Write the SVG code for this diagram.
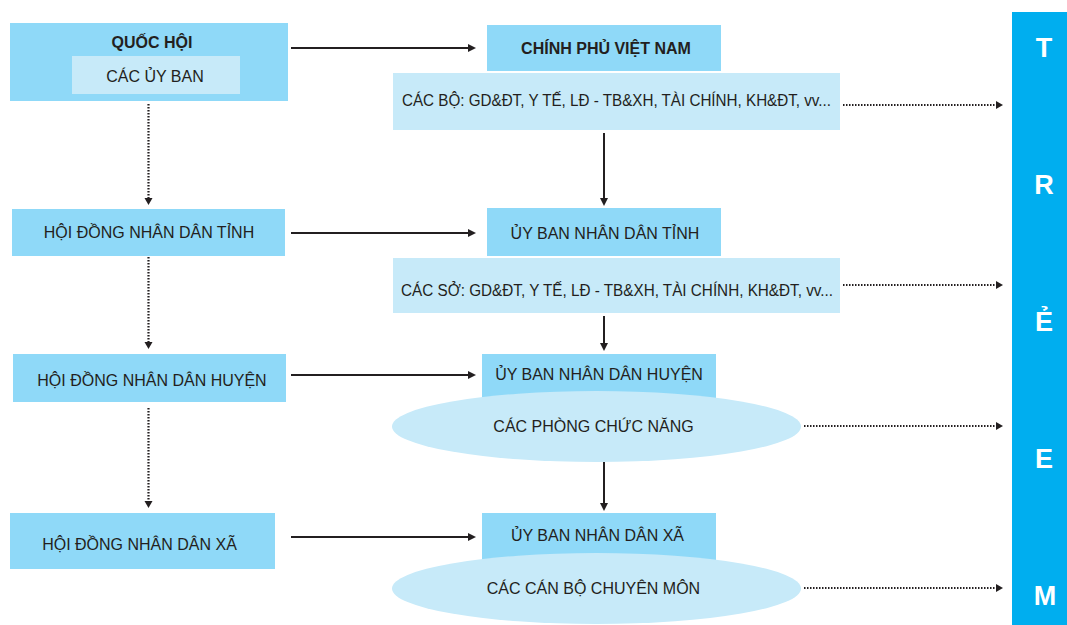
<svg xmlns="http://www.w3.org/2000/svg" width="1067" height="625" viewBox="0 0 1067 625">
  <style>
    .mid { fill: #8fd9f8; }
    .light { fill: #c7eaf9; }
    .t { font-family: "Liberation Sans", Arial, sans-serif; font-size: 16px; fill: #231f20; text-anchor: middle; }
    .b { font-weight: bold; }
    .solid { stroke: #231f20; stroke-width: 2; fill: none; }
    .dot { stroke: #231f20; stroke-width: 2.2; stroke-dasharray: 1.5 1.5; fill: none; }
    .side { font-family: "Liberation Sans", Arial, sans-serif; font-size: 27px; font-weight: bold; fill: #ffffff; text-anchor: middle; }
  </style>
  <defs>
    <marker id="ah" markerUnits="userSpaceOnUse" markerWidth="9" markerHeight="10" refX="1" refY="5" orient="auto">
      <path d="M0,1 L8,5 L0,9 z" fill="#231f20"/>
    </marker>
    <marker id="ahs" markerUnits="userSpaceOnUse" markerWidth="9" markerHeight="10" refX="1" refY="5" orient="auto">
      <path d="M0,1 L7,5 L0,9 z" fill="#231f20"/>
    </marker>
  </defs>
  <rect width="1067" height="625" fill="#ffffff"/>

  <g id="connectors">
    <line class="solid" x1="291" y1="48" x2="469" y2="48" marker-end="url(#ah)"/>
    <line class="solid" x1="291" y1="233" x2="469" y2="233" marker-end="url(#ah)"/>
    <line class="solid" x1="291" y1="375" x2="469" y2="375" marker-end="url(#ah)"/>
    <line class="solid" x1="291" y1="537" x2="469" y2="537" marker-end="url(#ah)"/>
    <line class="solid" x1="604" y1="133" x2="604" y2="199" marker-end="url(#ah)"/>
    <line class="solid" x1="604" y1="316" x2="604" y2="344" marker-end="url(#ah)"/>
    <line class="solid" x1="604" y1="462" x2="604" y2="504" marker-end="url(#ah)"/>
    <line class="dot" x1="148.5" y1="104" x2="148.5" y2="199" marker-end="url(#ahs)"/>
    <line class="dot" x1="148.5" y1="257" x2="148.5" y2="343" marker-end="url(#ahs)"/>
    <line class="dot" x1="148.5" y1="408" x2="148.5" y2="502" marker-end="url(#ahs)"/>
    <line class="dot" x1="843" y1="105" x2="997" y2="105" marker-end="url(#ahs)"/>
    <line class="dot" x1="843" y1="285" x2="997" y2="285" marker-end="url(#ahs)"/>
    <line class="dot" x1="804" y1="426" x2="997" y2="426" marker-end="url(#ahs)"/>
    <line class="dot" x1="804" y1="588" x2="997" y2="588" marker-end="url(#ahs)"/>
  </g>

  <g id="quoc-hoi">
    <rect class="mid" x="10" y="23" width="278" height="78"/>
    <text class="t b" x="152" y="48">QUỐC HỘI</text>
  </g>
  <g id="cac-uy-ban">
    <rect class="light" x="72" y="56" width="168" height="38"/>
    <text class="t" x="155" y="82">CÁC ỦY BAN</text>
  </g>
  <g id="hdnd-tinh">
    <rect class="mid" x="12" y="209" width="273" height="47"/>
    <text class="t" x="149" y="238">HỘI ĐỒNG NHÂN DÂN TỈNH</text>
  </g>
  <g id="hdnd-huyen">
    <rect class="mid" x="13" y="354" width="273" height="48"/>
    <text class="t" x="152" y="386">HỘI ĐỒNG NHÂN DÂN HUYỆN</text>
  </g>
  <g id="hdnd-xa">
    <rect class="mid" x="10" y="513" width="265" height="56"/>
    <text class="t" x="139.5" y="550">HỘI ĐỒNG NHÂN DÂN XÃ</text>
  </g>

  <g id="chinh-phu">
    <rect class="mid" x="487" y="25" width="234" height="46"/>
    <text class="t b" x="606" y="54">CHÍNH PHỦ VIỆT NAM</text>
  </g>
  <g id="cac-bo">
    <rect class="light" x="393" y="73" width="447" height="57"/>
    <text class="t" x="616.5" y="106" textLength="429" lengthAdjust="spacingAndGlyphs">CÁC BỘ: GD&amp;ĐT, Y TẾ, LĐ - TB&amp;XH, TÀI CHÍNH, KH&amp;ĐT, vv...</text>
  </g>
  <g id="ubnd-tinh">
    <rect class="mid" x="487" y="208" width="234" height="48"/>
    <text class="t" x="605" y="239">ỦY BAN NHÂN DÂN TỈNH</text>
  </g>
  <g id="cac-so">
    <rect class="light" x="393" y="258" width="447" height="55"/>
    <text class="t" x="617" y="296" textLength="432" lengthAdjust="spacingAndGlyphs">CÁC SỞ: GD&amp;ĐT, Y TẾ, LĐ - TB&amp;XH, TÀI CHÍNH, KH&amp;ĐT, vv...</text>
  </g>
  <g id="ubnd-huyen">
    <rect class="mid" x="482" y="354" width="234" height="48"/>
    <text class="t" x="599" y="380">ỦY BAN NHÂN DÂN HUYỆN</text>
  </g>
  <g id="cac-phong">
    <ellipse class="light" cx="596.5" cy="426.5" rx="204.5" ry="35.5"/>
    <text class="t" x="593.5" y="432">CÁC PHÒNG CHỨC NĂNG</text>
  </g>
  <g id="ubnd-xa">
    <rect class="mid" x="482" y="513" width="234" height="48"/>
    <text class="t" x="597.5" y="541">ỦY BAN NHÂN DÂN XÃ</text>
  </g>
  <g id="can-bo">
    <ellipse class="light" cx="596.5" cy="588.5" rx="204.5" ry="35.5"/>
    <text class="t" x="593.5" y="594">CÁC CÁN BỘ CHUYÊN MÔN</text>
  </g>

  <g id="tre-em">
    <rect x="1012" y="12" width="55" height="613" fill="#00aeef"/>
    <text class="side" x="1044" y="57">T</text>
    <text class="side" x="1044" y="194">R</text>
    <text class="side" x="1044" y="331">Ẻ</text>
    <text class="side" x="1044" y="468">E</text>
    <text class="side" x="1045" y="605">M</text>
  </g>
</svg>
